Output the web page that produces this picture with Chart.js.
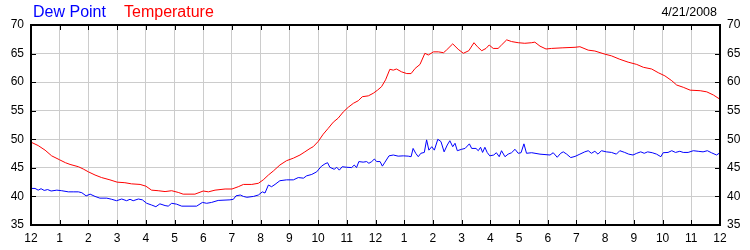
<!DOCTYPE html>
<html>
<head>
<meta charset="utf-8">
<script src="https://cdn.jsdelivr.net/npm/chart.js@4.4.1/dist/chart.umd.min.js"></script>
<style>
  body { margin: 0; background: #fff; }
  #wrap { position: relative; width: 750px; height: 250px; }
  #grafico { position: absolute; left: 0; top: 0; }
  .txt { position: absolute; font-family: 'Liberation Sans', Arial, sans-serif; line-height: 1; white-space: nowrap; }
</style>
</head>
<body>
<div id="wrap">
  <canvas id="grafico" width="750" height="250"></canvas>
</div>
<script>
const seriesNames = ["Dew Point", "Temperature"];
const seriesColors = ["#0000ff", "#ff0000"];
const dateLabel = "4/21/2008";
const hourLabels = ["12","1","2","3","4","5","6","7","8","9","10","11","12","1","2","3","4","5","6","7","8","9","10","11","12"];
const yTicks = [35, 40, 45, 50, 55, 60, 65, 70];

const tempHours = [
  0, 0.25, 0.49, 0.72, 1, 1.2, 1.36, 1.65, 1.82, 2,
  2.23, 2.46, 2.75, 3, 3.27, 3.5, 3.8, 4, 4.2, 4.43,
  4.67, 4.9, 5.13, 5.3, 5.71, 6, 6.18, 6.41, 6.76, 7,
  7.22, 7.4, 7.69, 7.92, 8.09, 8.27, 8.44, 8.67, 8.9, 9.14,
  9.37, 9.54, 9.72, 9.83, 10, 10.18, 10.35, 10.53, 10.7, 10.88,
  11.05, 11.23, 11.4, 11.54, 11.75, 11.92, 12.07, 12.21, 12.35, 12.5,
  12.62, 12.73, 12.91, 13.09, 13.24, 13.38, 13.55, 13.72, 13.84, 14.02,
  14.19, 14.37, 14.47, 14.69, 14.88, 15.06, 15.25, 15.43, 15.55, 15.7,
  15.85, 15.96, 16.1, 16.27, 16.39, 16.57, 16.74, 16.97, 17.2, 17.44,
  17.55, 17.73, 17.94, 18.13, 18.5, 18.95, 19.12, 19.41, 19.64, 19.99,
  20.22, 20.51, 20.8, 21.1, 21.33, 21.62, 21.85, 22.08, 22.32, 22.49,
  22.72, 22.96, 23.31, 23.54, 23.77, 24
];
const tempValues = [
  49.5, 48.9, 48.1, 47.1, 46.4, 45.9, 45.6, 45.2, 44.8, 44.3,
  43.75, 43.3, 42.9, 42.5, 42.4, 42.2, 42.1, 41.8, 41.1, 41.0,
  40.85, 41.0, 40.7, 40.4, 40.4, 40.95, 40.8, 41.1, 41.3, 41.3,
  41.7, 42.1, 42.1, 42.3, 42.9, 43.75, 44.45, 45.5, 46.25, 46.7,
  47.25, 47.8, 48.4, 48.7, 49.6, 50.9, 51.9, 53.0, 53.7, 54.8,
  55.6, 56.3, 56.75, 57.45, 57.6, 58.05, 58.6, 59.2, 60.4, 62.25,
  62.1, 62.3, 61.8, 61.5, 61.5, 62.4, 63.1, 65.05, 64.75, 65.3,
  65.3, 65.15, 65.6, 66.7, 65.75, 65.05, 65.5, 66.9, 66.2, 65.5,
  65.9, 66.5, 65.9, 65.9, 66.5, 67.4, 67.1, 66.9, 66.8, 66.9,
  67.0, 66.3, 65.8, 65.9, 66.0, 66.1, 66.2, 65.6, 65.45, 64.9,
  64.6, 64.0, 63.5, 63.1, 62.6, 62.3, 61.65, 61.1, 60.25, 59.5,
  59.1, 58.6, 58.5, 58.3, 57.75, 57.0
];

const dewHours = [
  0, 0.14, 0.25, 0.35, 0.46, 0.58, 0.7, 0.9, 1.07, 1.3,
  1.47, 1.65, 1.77, 1.92, 2.06, 2.23, 2.4, 2.64, 2.81, 2.98,
  3.16, 3.33, 3.45, 3.56, 3.74, 3.88, 4.03, 4.2, 4.35, 4.49,
  4.67, 4.78, 4.9, 5.07, 5.25, 5.77, 5.97, 6.12, 6.29, 6.52,
  6.93, 7.05, 7.14, 7.29, 7.4, 7.52, 7.75, 7.92, 8.06, 8.15,
  8.27, 8.38, 8.5, 8.67, 8.9, 9.14, 9.31, 9.49, 9.6, 9.78,
  9.95, 10.12, 10.24, 10.33, 10.41, 10.56, 10.65, 10.74, 10.84, 11,
  11.17, 11.26, 11.34, 11.42, 11.57, 11.69, 11.77, 11.87, 11.96, 12.04,
  12.16, 12.24, 12.33, 12.47, 12.62, 12.79, 12.97, 13.14, 13.24, 13.31,
  13.4, 13.49, 13.58, 13.7, 13.78, 13.86, 13.96, 14.05, 14.17, 14.28,
  14.39, 14.5, 14.59, 14.69, 14.77, 14.85, 15, 15.12, 15.27, 15.35,
  15.5, 15.58, 15.66, 15.73, 15.81, 15.89, 15.98, 16.12, 16.21, 16.31,
  16.39, 16.51, 16.62, 16.74, 16.86, 16.97, 17.07, 17.17, 17.26, 17.44,
  17.73, 18.08, 18.19, 18.33, 18.45, 18.54, 18.66, 18.8, 18.95, 19.12,
  19.29, 19.41, 19.52, 19.64, 19.75, 19.87, 20.04, 20.22, 20.39, 20.51,
  20.68, 20.82, 20.97, 21.1, 21.24, 21.36, 21.48, 21.64, 21.79, 21.94,
  22.02, 22.19, 22.32, 22.45, 22.6, 22.72, 22.89, 23.07, 23.24, 23.41,
  23.56, 23.7, 23.88, 24
];
const dewValues = [
  41.4, 41.4, 41.1, 41.35, 41.05, 41.2, 40.95, 41.1, 41.0, 40.8,
  40.8, 40.8, 40.65, 40.1, 40.4, 40.0, 39.7, 39.7, 39.5, 39.25,
  39.55, 39.25, 39.5, 39.25, 39.55, 39.4, 38.8, 38.5, 38.2, 38.7,
  38.4, 38.3, 38.8, 38.65, 38.3, 38.3, 38.95, 38.8, 38.95, 39.3,
  39.4, 39.5, 40.1, 40.25, 40.0, 39.85, 40.0, 40.25, 40.8, 40.6,
  42.0, 41.7, 42.1, 42.75, 42.9, 42.9, 43.3, 43.2, 43.6, 43.85,
  44.3, 45.3, 45.7, 45.9, 45.1, 44.75, 45.1, 44.6, 45.2, 45.1,
  45.05, 45.5, 45.05, 46.1, 46.0, 46.1, 45.8, 46.1, 46.55, 46.1,
  46.1, 45.3, 46.0, 47.1, 47.25, 47.05, 47.1, 47.05, 46.95, 48.4,
  47.55, 46.95, 47.55, 47.7, 49.9, 48.1, 48.7, 48.1, 50.0, 49.6,
  47.8, 49.0, 49.75, 48.7, 49.3, 48.0, 48.25, 48.4, 49.2, 48.4,
  48.4, 48.0, 48.6, 47.7, 48.6, 47.7, 47.1, 47.25, 47.65, 46.95,
  48.0, 46.95, 47.4, 47.65, 48.25, 47.55, 47.65, 49.2, 47.55, 47.65,
  47.4, 47.25, 47.65, 46.85, 47.55, 47.8, 47.4, 46.8, 47.0, 47.4,
  47.8, 48.0, 47.55, 47.9, 47.4, 48.0, 47.8, 47.7, 47.4, 48.0,
  47.7, 47.4, 47.25, 47.55, 47.8, 47.55, 47.8, 47.65, 47.4, 46.95,
  47.65, 47.7, 48.0, 47.7, 47.9, 47.7, 47.7, 48.0, 47.9, 47.8,
  48.0, 47.65, 47.25, 47.65
];

function pares(horas, valores) {
  return horas.map((h, i) => ({ x: h, y: valores[i] }));
}

// legend and date as html text
const wrap = document.getElementById("wrap");
function addText(texto, estilo) {
  const s = document.createElement("span");
  s.className = "txt";
  s.textContent = texto;
  Object.assign(s.style, estilo);
  wrap.appendChild(s);
}
addText(seriesNames[0], { left: "33px", top: "4px", fontSize: "16px", color: seriesColors[0] });
addText(seriesNames[1], { left: "124px", top: "4px", fontSize: "16px", color: seriesColors[1] });
addText(dateLabel, { right: "33px", top: "6px", fontSize: "12.5px", color: "#000" });

// black frame + inward tick marks
const moldura = {
  id: "moldura",
  afterDraw(chart) {
    const { ctx, chartArea: a, scales } = chart;
    ctx.save();
    ctx.strokeStyle = "#000";
    ctx.lineWidth = 1;
    ctx.beginPath();
    scales.x.ticks.forEach(t => {
      const px = Math.round(scales.x.getPixelForValue(t.value)) + 0.5;
      ctx.moveTo(px, a.top); ctx.lineTo(px, a.top + 5);
      ctx.moveTo(px, a.bottom); ctx.lineTo(px, a.bottom - 5);
    });
    scales.y.ticks.forEach(t => {
      const py = Math.round(scales.y.getPixelForValue(t.value)) + 0.5;
      ctx.moveTo(a.left, py); ctx.lineTo(a.left + 5, py);
      ctx.moveTo(a.right, py); ctx.lineTo(a.right - 5, py);
    });
    ctx.stroke();
    ctx.lineWidth = 2;
    ctx.strokeRect(a.left, a.top, a.right - a.left, a.bottom - a.top);
    ctx.restore();
  }
};

const fonteTicks = { family: "'Liberation Sans', Arial, sans-serif", size: 12 };

new Chart(document.getElementById("grafico"), {
  type: "line",
  data: {
    datasets: [
      {
        label: seriesNames[1],
        data: pares(tempHours, tempValues),
        borderColor: seriesColors[1],
        borderWidth: 1,
        pointRadius: 0,
        tension: 0,
        yAxisID: "y"
      },
      {
        label: seriesNames[0],
        data: pares(dewHours, dewValues),
        borderColor: seriesColors[0],
        borderWidth: 1,
        pointRadius: 0,
        tension: 0,
        yAxisID: "y"
      }
    ]
  },
  options: {
    responsive: false,
    animation: false,
    layout: { padding: { top: 25, left: 0, right: 0, bottom: 0 } },
    plugins: { legend: { display: false }, tooltip: { enabled: false } },
    scales: {
      x: {
        type: "linear",
        min: 0,
        max: hourLabels.length - 1,
        border: { display: false },
        grid: { color: "#cccccc", drawTicks: false },
        afterFit: s => { s.height = 25; },
        ticks: {
          stepSize: 1,
          autoSkip: false,
          maxRotation: 0,
          padding: 6,
          color: "#000",
          font: fonteTicks,
          callback: v => hourLabels[v]
        }
      },
      y: {
        position: "left",
        min: yTicks[0],
        max: yTicks[yTicks.length - 1],
        border: { display: false },
        grid: { color: "#cccccc", drawTicks: false },
        afterFit: s => { s.width = 31; },
        afterBuildTicks: s => { s.ticks = yTicks.map(v => ({ value: v })); },
        ticks: { padding: 7, color: "#000", font: fonteTicks }
      },
      y2: {
        position: "right",
        min: yTicks[0],
        max: yTicks[yTicks.length - 1],
        border: { display: false },
        grid: { display: false, drawTicks: false },
        afterFit: s => { s.width = 30; },
        afterBuildTicks: s => { s.ticks = yTicks.map(v => ({ value: v })); },
        ticks: { padding: 7, color: "#000", font: fonteTicks }
      }
    }
  },
  plugins: [moldura]
});
</script>
</body>
</html>
